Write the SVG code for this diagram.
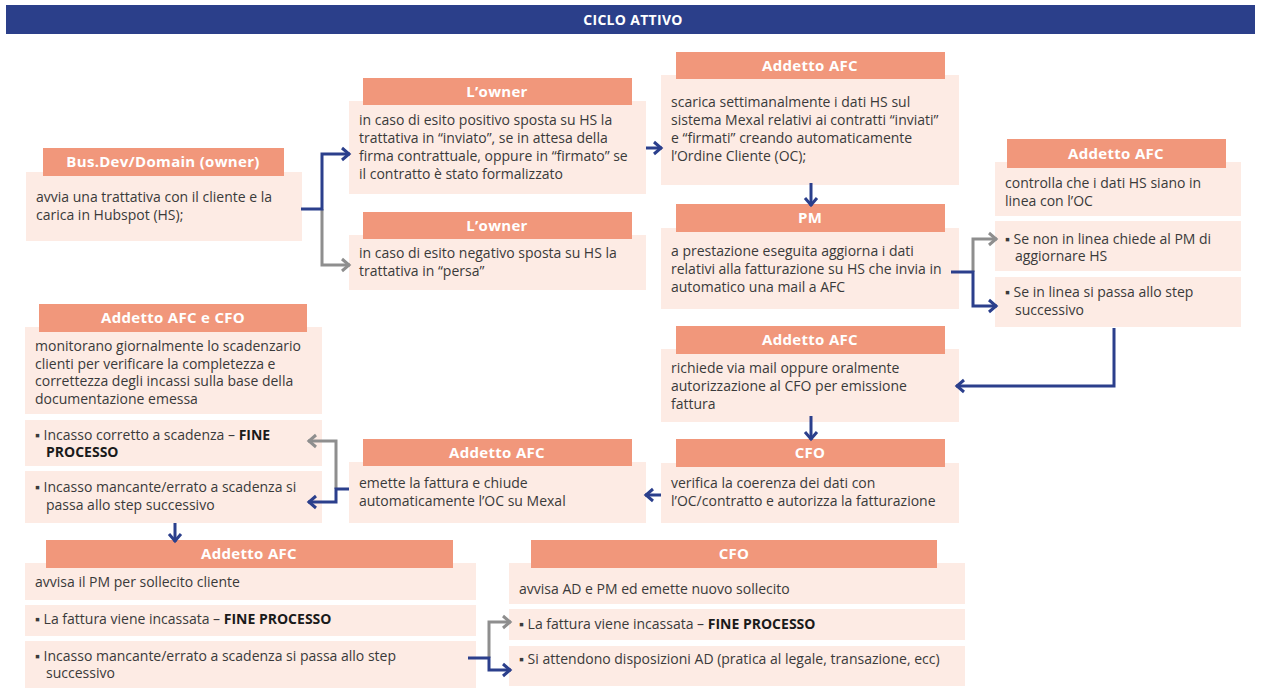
<svg xmlns="http://www.w3.org/2000/svg" width="1261" height="690" viewBox="0 0 1261 690">
<defs>
<style>
.hdr{fill:#f1977b}
.bd{fill:#fdebe4}
.ht{font-family:"Open Sans","Liberation Sans",sans-serif;font-weight:700;font-size:15px;letter-spacing:0.3px;fill:#ffffff;text-anchor:middle}
.bt{font-family:"Open Sans","Liberation Sans",sans-serif;font-size:14px;fill:#3a3a3a}
.b{font-weight:700;fill:#1a1a1a}
.cb{fill:none;stroke:#2b3f8c;stroke-width:3;marker-end:url(#ab)}
.cg{fill:none;stroke:#8e8e8e;stroke-width:3;marker-end:url(#ag)}
</style>
<marker id="ab" markerUnits="userSpaceOnUse" markerWidth="14" markerHeight="16" refX="10" refY="8" orient="auto">
<path d="M2,2 L9,8 L2,14" fill="none" stroke="#2b3f8c" stroke-width="3"/>
</marker>
<marker id="ag" markerUnits="userSpaceOnUse" markerWidth="14" markerHeight="16" refX="10" refY="8" orient="auto">
<path d="M2,2 L9,8 L2,14" fill="none" stroke="#8e8e8e" stroke-width="3"/>
</marker>
</defs>
<rect width="1261" height="690" fill="#ffffff"/>
<g id="title">
<rect x="6" y="5" width="1249" height="29" fill="#2b3f8a"/>
<text x="633" y="25" class="ht" style="font-size:14px">CICLO ATTIVO</text>
</g>
<g id="n-busdev">
<rect class="bd" x="26" y="172" width="276" height="69"/>
<rect class="hdr" x="43" y="148" width="241" height="28"/>
<text class="ht" x="163" y="167">Bus.Dev/Domain (owner)</text>
<text class="bt" x="36" y="202">avvia una trattativa con il cliente e la</text>
<text class="bt" x="36" y="220">carica in Hubspot (HS);</text>
</g>
<g id="n-owner-pos">
<rect class="bd" x="349" y="101" width="297" height="93"/>
<rect class="hdr" x="363" y="78" width="269" height="27"/>
<text class="ht" x="497" y="97">L’owner</text>
<text class="bt" x="359" y="125">in caso di esito positivo sposta su HS la</text>
<text class="bt" x="359" y="143">trattativa in “inviato”, se in attesa della</text>
<text class="bt" x="359" y="161">firma contrattuale, oppure in “firmato” se</text>
<text class="bt" x="359" y="179">il contratto è stato formalizzato</text>
</g>
<g id="n-owner-neg">
<rect class="bd" x="349" y="235" width="297" height="55"/>
<rect class="hdr" x="363" y="212" width="269" height="27"/>
<text class="ht" x="497" y="231">L’owner</text>
<text class="bt" x="359" y="258">in caso di esito negativo sposta su HS la</text>
<text class="bt" x="359" y="276">trattativa in “persa”</text>
</g>
<g id="n-afc-scarica">
<rect class="bd" x="661" y="75" width="298" height="110"/>
<rect class="hdr" x="676" y="52" width="269" height="27"/>
<text class="ht" x="810" y="71">Addetto AFC</text>
<text class="bt" x="671" y="107">scarica settimanalmente i dati HS sul</text>
<text class="bt" x="671" y="125">sistema Mexal relativi ai contratti “inviati”</text>
<text class="bt" x="671" y="143">e “firmati” creando automaticamente</text>
<text class="bt" x="671" y="161">l’Ordine Cliente (OC);</text>
</g>
<g id="n-pm">
<rect class="bd" x="661" y="228" width="298" height="81"/>
<rect class="hdr" x="676" y="204" width="269" height="28"/>
<text class="ht" x="810" y="223">PM</text>
<text class="bt" x="671" y="256">a prestazione eseguita aggiorna i dati</text>
<text class="bt" x="671" y="274">relativi alla fatturazione su HS che invia in</text>
<text class="bt" x="671" y="292">automatico una mail a AFC</text>
</g>
<g id="n-afc-controlla">
<rect class="bd" x="995" y="162" width="246" height="54"/>
<rect class="hdr" x="1007" y="139" width="219" height="29"/>
<text class="ht" x="1116" y="159">Addetto AFC</text>
<text class="bt" x="1005" y="188">controlla che i dati HS siano in</text>
<text class="bt" x="1005" y="206">linea con l’OC</text>
<rect class="bd" x="995" y="221" width="246" height="50"/>
<text class="bt" x="1005" y="244">▪ Se non in linea chiede al PM di</text>
<text class="bt" x="1015" y="261">aggiornare HS</text>
<rect class="bd" x="995" y="277" width="246" height="50"/>
<text class="bt" x="1005" y="297">▪ Se in linea si passa allo step</text>
<text class="bt" x="1015" y="315">successivo</text>
</g>
<g id="n-afc-richiede">
<rect class="bd" x="661" y="349" width="298" height="73"/>
<rect class="hdr" x="676" y="326" width="269" height="28"/>
<text class="ht" x="810" y="345">Addetto AFC</text>
<text class="bt" x="671" y="373">richiede via mail oppure oralmente</text>
<text class="bt" x="671" y="391">autorizzazione al CFO per emissione</text>
<text class="bt" x="671" y="409">fattura</text>
</g>
<g id="n-cfo-verifica">
<rect class="bd" x="661" y="463" width="298" height="60"/>
<rect class="hdr" x="676" y="439" width="269" height="28"/>
<text class="ht" x="810" y="458">CFO</text>
<text class="bt" x="671" y="488">verifica la coerenza dei dati con</text>
<text class="bt" x="671" y="506">l’OC/contratto e autorizza la fatturazione</text>
</g>
<g id="n-afc-emette">
<rect class="bd" x="349" y="462" width="297" height="61"/>
<rect class="hdr" x="363" y="439" width="269" height="27"/>
<text class="ht" x="497" y="458">Addetto AFC</text>
<text class="bt" x="359" y="488">emette la fattura e chiude</text>
<text class="bt" x="359" y="506">automaticamente l’OC su Mexal</text>
</g>
<g id="n-afc-cfo">
<rect class="bd" x="25" y="327" width="297" height="87"/>
<rect class="hdr" x="39" y="304" width="268" height="28"/>
<text class="ht" x="173" y="323">Addetto AFC e CFO</text>
<text class="bt" x="35" y="351">monitorano giornalmente lo scadenzario</text>
<text class="bt" x="35" y="369">clienti per verificare la completezza e</text>
<text class="bt" x="35" y="386">correttezza degli incassi sulla base della</text>
<text class="bt" x="35" y="404">documentazione emessa</text>
<rect class="bd" x="25" y="420" width="297" height="46"/>
<text class="bt" x="35" y="440">▪ Incasso corretto a scadenza – <tspan class="b">FINE</tspan></text>
<text class="bt b" x="46" y="457">PROCESSO</text>
<rect class="bd" x="25" y="471" width="297" height="52"/>
<text class="bt" x="35" y="492">▪ Incasso mancante/errato a scadenza si</text>
<text class="bt" x="46" y="510">passa allo step successivo</text>
</g>
<g id="n-afc-avvisa">
<rect class="bd" x="25" y="563" width="451" height="37"/>
<rect class="hdr" x="46" y="540" width="407" height="28"/>
<text class="ht" x="249" y="559">Addetto AFC</text>
<text class="bt" x="35" y="587">avvisa il PM per sollecito cliente</text>
<rect class="bd" x="25" y="605" width="451" height="31"/>
<text class="bt" x="35" y="624">▪ La fattura viene incassata – <tspan class="b">FINE PROCESSO</tspan></text>
<rect class="bd" x="25" y="641" width="451" height="47"/>
<text class="bt" x="35" y="661">▪ Incasso mancante/errato a scadenza si passa allo step</text>
<text class="bt" x="46" y="678">successivo</text>
</g>
<g id="n-cfo-avvisa">
<rect class="bd" x="509" y="563" width="456" height="41"/>
<rect class="hdr" x="531" y="540" width="406" height="28"/>
<text class="ht" x="734" y="559">CFO</text>
<text class="bt" x="519" y="594">avvisa AD e PM ed emette nuovo sollecito</text>
<rect class="bd" x="509" y="609" width="456" height="31"/>
<text class="bt" x="519" y="629">▪ La fattura viene incassata – <tspan class="b">FINE PROCESSO</tspan></text>
<rect class="bd" x="509" y="646" width="456" height="40"/>
<text class="bt" x="519" y="664">▪ Si attendono disposizioni AD (pratica al legale, transazione, ecc)</text>
</g>
<g id="connectors">
<path class="cg" d="M322,209 V265 H350"/>
<path class="cb" d="M301,209 H322 V154 H350"/>
<path class="cb" d="M646,148 H662"/>
<path class="cb" d="M811,183 V206"/>
<path class="cg" d="M973,272 V239 H997"/>
<path class="cb" d="M951,272 H973 V306 H997"/>
<path class="cb" d="M1114,328 V386 H956"/>
<path class="cb" d="M811,416 V440"/>
<path class="cb" d="M661,495 H645"/>
<path class="cg" d="M336,489 V441 H308"/>
<path class="cb" d="M349,489 H336 V502 H308"/>
<path class="cb" d="M175,523 V542"/>
<path class="cg" d="M489,658 V622 H511"/>
<path class="cb" d="M468,658 H489 V670 H511"/>
</g>
</svg>
